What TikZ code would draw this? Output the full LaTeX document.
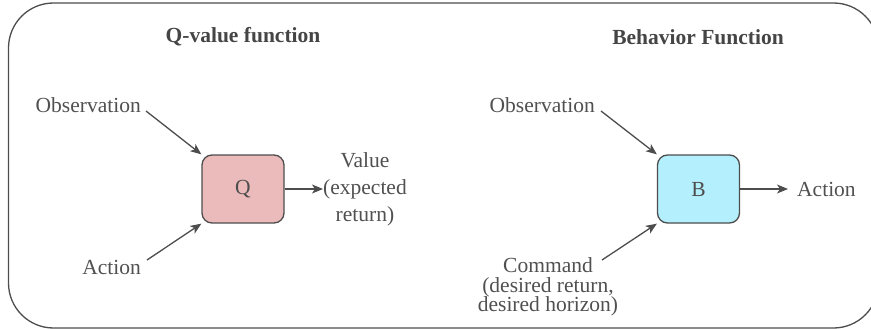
\documentclass[tikz,border=0pt]{standalone}
\usepackage{fontspec}
\setmainfont{Liberation Serif}
\usetikzlibrary{arrows.meta}
\definecolor{lc}{HTML}{4D4D4D}
\definecolor{tc}{HTML}{505050}
\definecolor{qfill}{HTML}{EBBABB}
\definecolor{bfill}{HTML}{B3EFFC}
\tikzset{
  lbl/.style={inner sep=0pt, text=tc, font=\fontsize{21.5}{27}\selectfont},
  ttl/.style={inner sep=0pt, text=lc!90!black, font=\fontsize{21.5}{27}\selectfont\bfseries},
  fbox/.style={draw=lc, line width=1.3pt, rounded corners=10pt, minimum width=82pt, minimum height=68pt, inner sep=0pt, text=lc, font=\fontsize{21.5}{27}\selectfont},
  conn/.style={draw=lc, line width=1.3pt, -{Stealth[length=11pt,width=9pt,inset=3pt]}},
}
\begin{document}
\begin{tikzpicture}[x=1pt,y=-1pt]
\useasboundingbox (0,0) rectangle (871,329);
\draw[lc, line width=1.3pt, rounded corners=45pt] (8.5,3) rectangle (878.5,328);
% left
\node[ttl] (t1) at (243,37) {Q-value function};
\node[lbl, anchor=east] (obs1) at (141,105) {Observation};
\node[lbl, anchor=east] (act1) at (141,267) {Action};
\node[fbox, fill=qfill] (Q) at (243,189) {Q};
\node[lbl, align=center, anchor=west] (val) at (323,189) {Value\\(expected\\return)};
\draw[conn] ([shift={(5,6)}]obs1.east) -- (Q.north west);
\draw[conn] ([shift={(6,-7)}]act1.east) -- (Q.south west);
\draw[conn] (Q.east) -- (val.west);
% right
\node[ttl] (t2) at (698,37) {Behavior Function};
\node[lbl, anchor=east] (obs2) at (595,105) {Observation};
\node[lbl, align=center, font=\fontsize{21.5}{19.5}\selectfont] (cmd) at (548,287) {Command\\(desired return,\\desired horizon)};
\node[fbox, fill=bfill] (B) at (698.5,189) {B};
\node[lbl, anchor=west] (act2) at (797,189) {Action};
\draw[conn] ([shift={(6,6)}]obs2.east) -- (B.north west);
\draw[conn] ([shift={(54,-27)}]cmd.center) -- (B.south west);
\draw[conn, shorten >=9pt] (B.east) -- (act2.west);
\end{tikzpicture}
\end{document}
